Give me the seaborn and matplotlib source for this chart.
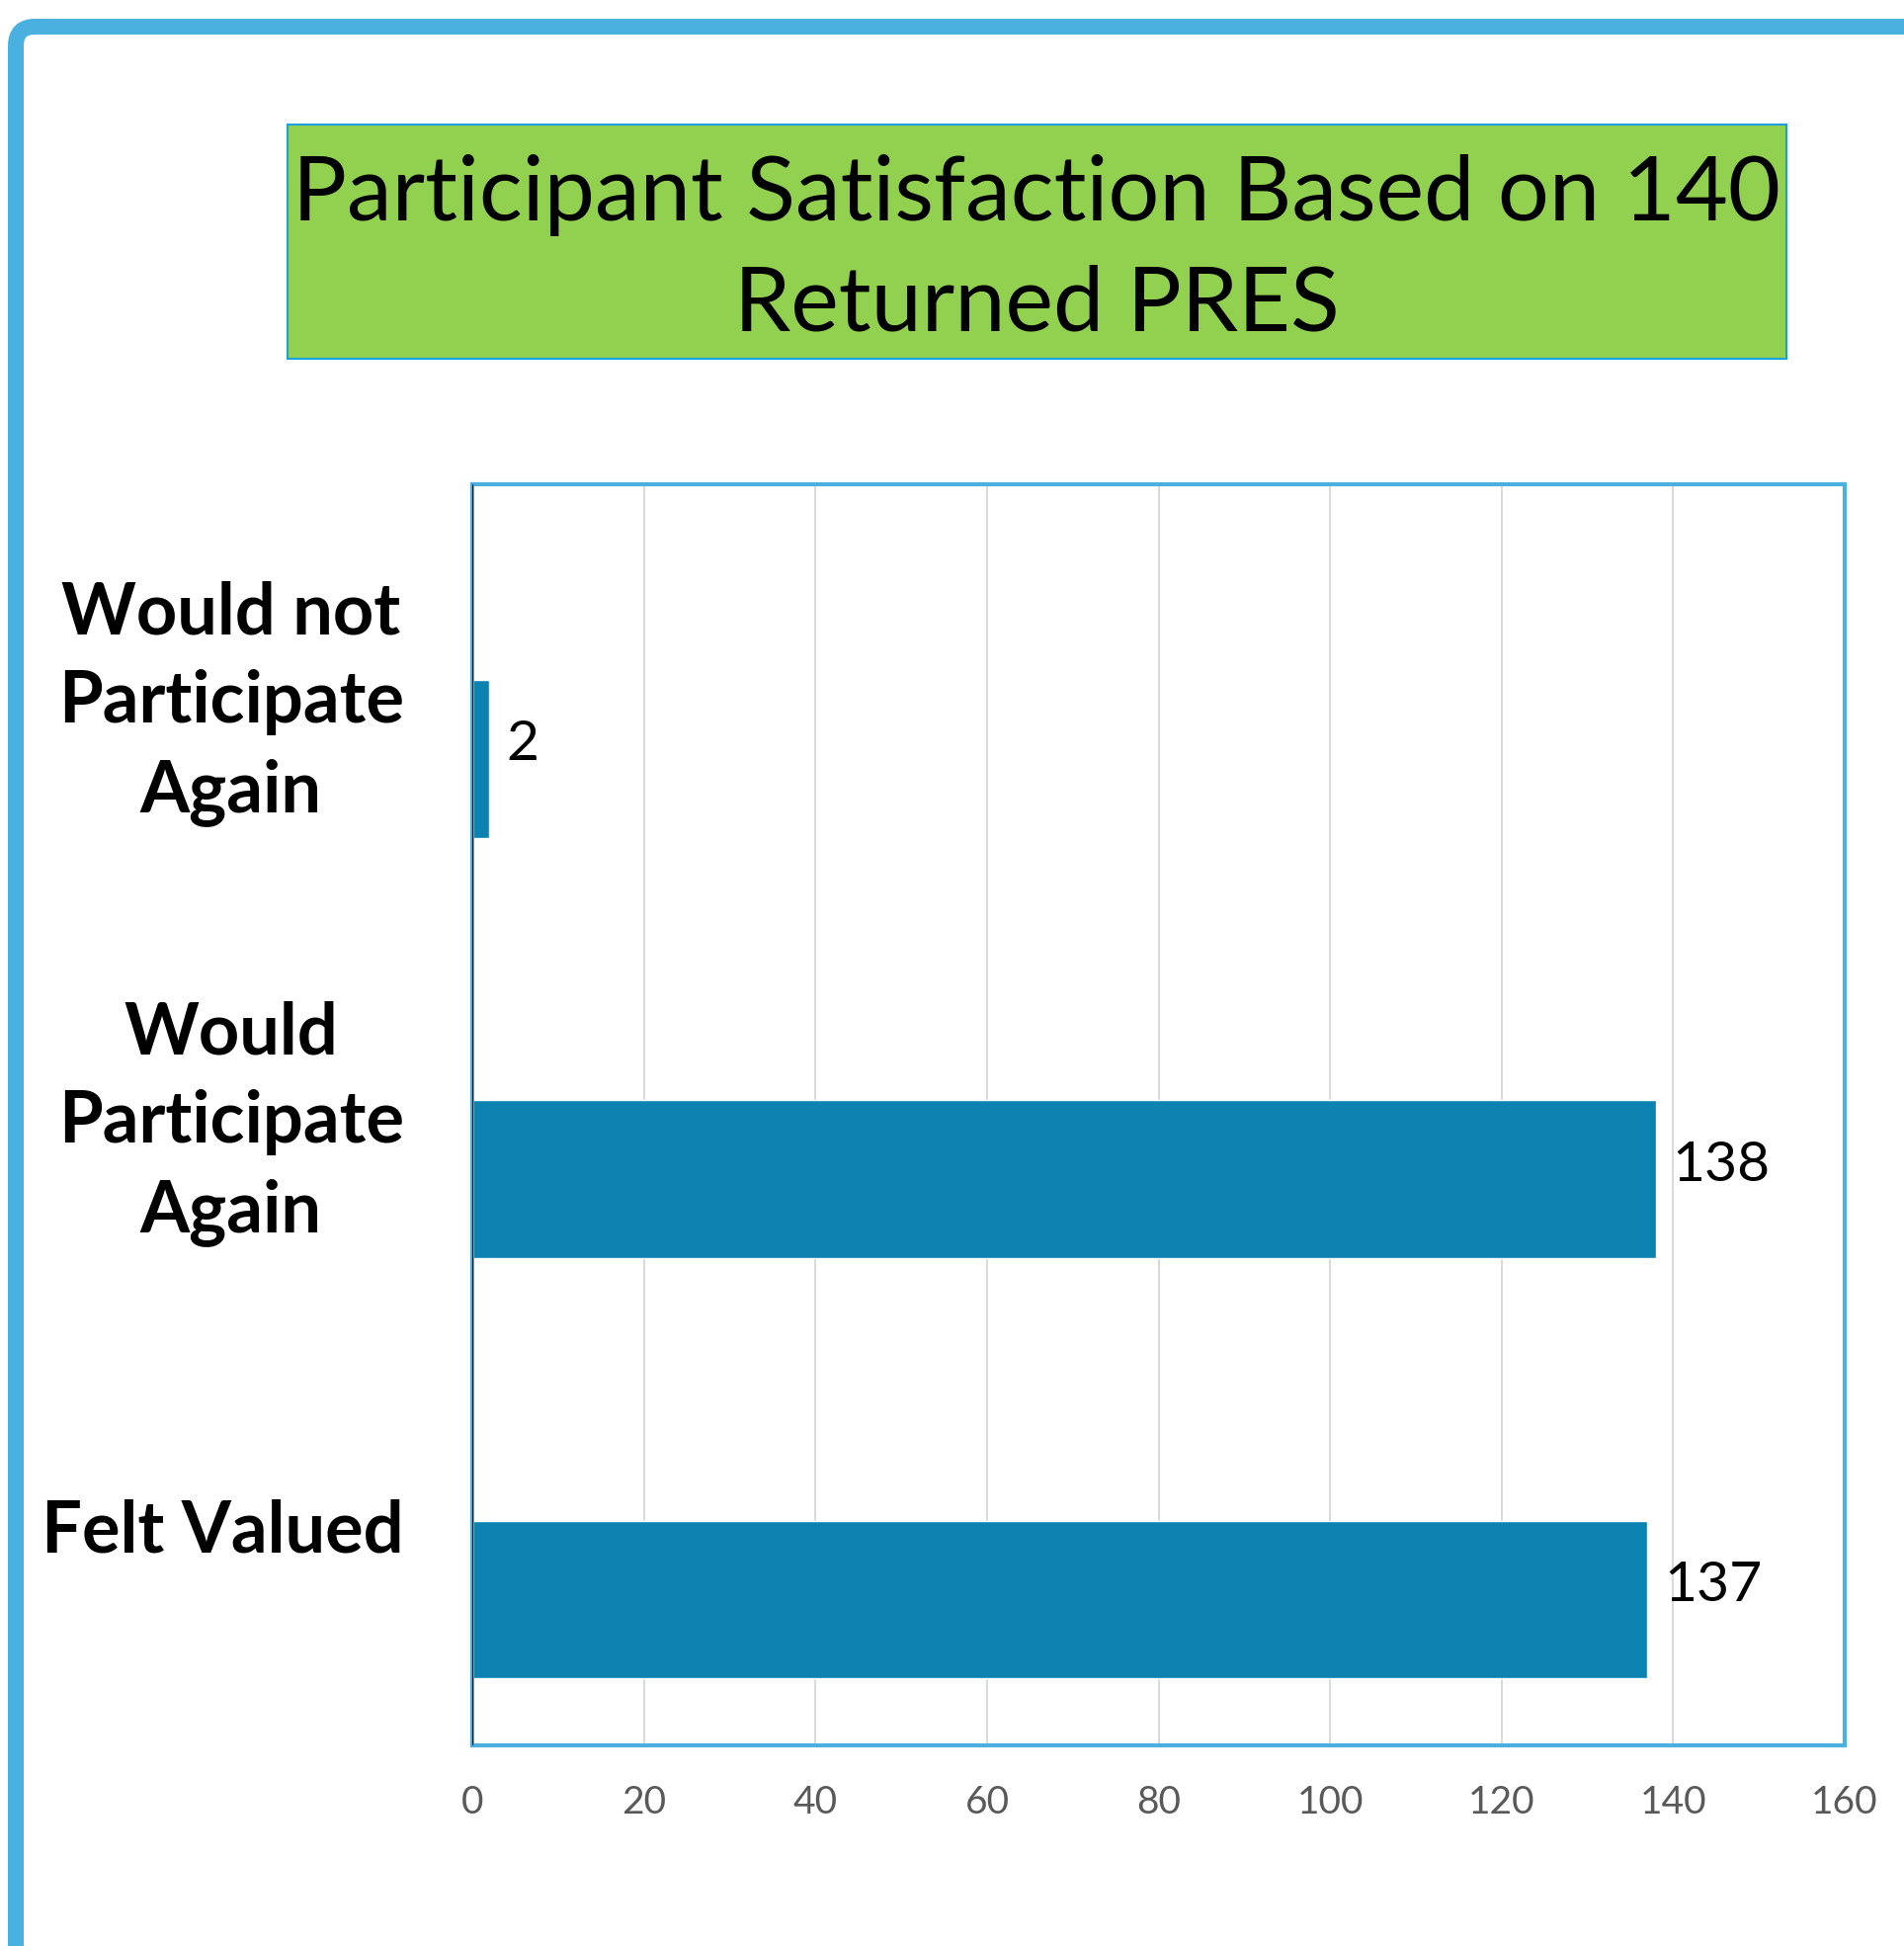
import matplotlib
matplotlib.use("Agg")
import matplotlib.pyplot as plt
import matplotlib.transforms as mtransforms
from matplotlib.patches import FancyBboxPatch, Rectangle
import seaborn as sns

# dados do gráfico
categorias = ["Would not\nParticipate\nAgain", "Would\nParticipate\nAgain", "Felt Valued"]
valores = [2, 138, 137]
ticks_x = [0, 20, 40, 60, 80, 100, 120, 140, 160]
titulo = "Participant Satisfaction Based on 140\nReturned PRES"

AZUL_BARRA = "#0B82B0"
AZUL_MOLDURA = "#4AB0E0"
VERDE = "#92D050"

sns.set_style("white")
plt.rcParams["font.family"] = ["Lato", "DejaVu Sans"]

fig = plt.figure(figsize=(19.27, 19.69), dpi=100)

# moldura externa
moldura = FancyBboxPatch(
    (0.0083, -0.1), 1.2, 1.0863,
    boxstyle="round,pad=0,rounding_size=0.01",
    transform=fig.transFigure,
    facecolor="none",
    edgecolor=AZUL_MOLDURA,
    linewidth=11.5,
    clip_on=False,
)
fig.patches.append(moldura)

# caixa do título
caixa = Rectangle(
    (0.151, 0.8156), 0.787, 0.1204,
    transform=fig.transFigure,
    facecolor=VERDE,
    edgecolor="#1EA0DC",
    linewidth=1.5,
)
fig.patches.append(caixa)
fig.text(
    0.5445, 0.8715, titulo,
    ha="center", va="center",
    fontsize=66, color="black",
    linespacing=1.42,
)

ax = fig.add_axes([0.2481, 0.1031, 0.7208, 0.648])

sns.barplot(
    x=valores,
    y=categorias,
    orient="h",
    color=AZUL_BARRA,
    width=0.375,
    saturation=1,
    ax=ax,
)

ax.set_xlim(0, 160)
ax.set_ylim(2.347, -0.653)
ax.set_xticks(ticks_x)
ax.set_xticklabels([str(t) for t in ticks_x])
ax.set_xlabel("")
ax.set_ylabel("")

ax.grid(axis="x", color="#D9D9D9", linewidth=1.4)
ax.grid(axis="y", visible=False)
ax.set_axisbelow(True)

for lado in ["top", "right", "bottom", "left"]:
    ax.spines[lado].set_color(AZUL_MOLDURA)
    ax.spines[lado].set_linewidth(3)
ax.axvline(0, color="black", linewidth=1.2, zorder=3)

ax.tick_params(axis="x", length=0, pad=29, labelsize=28, labelcolor="#595959")
ax.tick_params(axis="y", length=0, pad=50, labelsize=52, labelcolor="black")

deslocamento = mtransforms.ScaledTranslation(0, 0.75, fig.dpi_scale_trans)
for rotulo in ax.get_yticklabels():
    rotulo.set_fontweight("bold")
    rotulo.set_multialignment("center")
    rotulo.set_linespacing(1.42)
    rotulo.set_transform(rotulo.get_transform() + deslocamento)

# rótulos de valor
for i, v in enumerate(valores):
    ax.annotate(
        str(v),
        xy=(v, i),
        xytext=(12, 10),
        textcoords="offset points",
        ha="left", va="center",
        fontsize=41, color="black",
    )

plt.savefig("out.png", dpi=100)
plt.close()
